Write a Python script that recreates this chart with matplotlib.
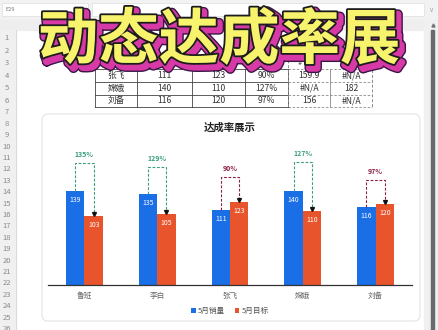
import matplotlib
matplotlib.use('Agg')
import matplotlib.pyplot as plt
import matplotlib.patheffects as pe
from matplotlib.patches import Rectangle, FancyBboxPatch
import numpy as np

plt.rcParams['font.family'] = ['Noto Sans CJK SC', 'DejaVu Sans']

### Data
names = ['鲁班', '李白', '张飞', '嫦娥', '刘备']
sales = [139, 135, 111, 140, 116]      # 5月销量
target = [103, 105, 123, 110, 120]     # 5月目标
rate_labels = ['135%', '129%', '90%', '127%', '97%']

# visible rows of the sheet table (rows 4-6)
table_rows = [
    ['张飞', '111', '123', '90%', '159.9', '#N/A'],
    ['嫦娥', '140', '110', '127%', '#N/A', '182'],
    ['刘备', '116', '120', '97%', '156', '#N/A'],
]
row_numbers = list(range(1, 27))

big_title = '动态达成率展'
chart_title = '达成率展示'
legend_labels = ['5月销量', '5月目标']

# colours
c_blue = '#1a6ee6'
c_orange = '#e8542c'
c_up = '#3a9f7a'
c_down = '#8e1f45'

W, H = 439, 330
fig = plt.figure(figsize=(W / 100, H / 100), dpi=100)
fig.patch.set_facecolor('white')

### Background "spreadsheet" layer in pixel coords
bg = fig.add_axes([0, 0, 1, 1])
bg.set_xlim(0, W)
bg.set_ylim(H, 0)
bg.axis('off')

# formula bar strip
bg.add_patch(Rectangle((0, 0), W, 20, color='#f2f2f2', zorder=1))
bg.add_patch(Rectangle((2, 3), 86, 13, facecolor='white', edgecolor='#e2e2e2', lw=0.6, zorder=2))
bg.add_patch(Rectangle((92, 3), 332, 13, facecolor='white', edgecolor='#e2e2e2', lw=0.6, zorder=2))
bg.text(6, 9.5, 'E29', fontsize=4, color='#777777', va='center', zorder=3)
bg.text(432, 9.5, 'v', fontsize=4.5, color='#999999', va='center', ha='center', zorder=3)
# column header strip
bg.add_patch(Rectangle((0, 20), W, 10, color='#eeeeee', zorder=1))

# row numbers column
bg.add_patch(Rectangle((0, 30), 16, H - 30, color='#f0f0f0', zorder=1))
bg.plot([16, 16], [30, H], color='#d8d8d8', lw=0.6, zorder=2)
for n in row_numbers:
    yc = 38 + (n - 1) * 12.6 if n <= 6 else 101 + (n - 6) * 11.4
    bg.text(7, yc, str(n), fontsize=5.5, color='#8a8a8a', ha='center', va='center', zorder=3)

# scrollbar on the right
bg.add_patch(Rectangle((424, 20), 15, H - 20, color='#f0f0f0', zorder=1))
bg.add_patch(Rectangle((431.5, 30), 2.5, H - 30, color='#6a6a6a', zorder=2))
bg.plot([432.7], [25], marker='^', ms=2.2, color='#777777', zorder=3)

# sheet table (rows 4-6)
col_edges = [95, 137, 192, 245, 288, 330, 372]
row_edges = [69, 82, 94.5, 107]
for r, row in enumerate(table_rows):
    for c, val in enumerate(row):
        xc = (col_edges[c] + col_edges[c + 1]) / 2
        yc = (row_edges[r] + row_edges[r + 1]) / 2
        bg.text(xc, yc, val, fontsize=6.2, color='#333333', ha='center', va='center', zorder=3)
for y in row_edges:
    bg.plot([col_edges[0], col_edges[4]], [y, y], color='#444444', lw=0.6, zorder=2)
    bg.plot([col_edges[4], col_edges[6]], [y, y], color='#888888', lw=0.6, ls=(0, (3, 2)), zorder=2)
for x in col_edges[:5]:
    bg.plot([x, x], [row_edges[0], row_edges[-1]], color='#444444', lw=0.6, zorder=2)
bg.plot([col_edges[5], col_edges[5]], [row_edges[0], row_edges[-1]], color='#888888', lw=0.6, zorder=2)
for x in (col_edges[4], col_edges[6]):
    bg.plot([x, x], [55, row_edges[-1]], color='#888888', lw=0.7, ls=(0, (3, 2)), zorder=2)
bg.text(300, 63, '#', fontsize=5.5, color='#333333', ha='center', va='center', zorder=3)

# chart card
bg.add_patch(FancyBboxPatch((42, 114), 378, 207, boxstyle='round,pad=0,rounding_size=6',
                            facecolor='white', edgecolor='#e3e3e3', lw=0.8, zorder=4))
bg.text(230, 128, chart_title, fontsize=7.5, fontweight='bold', color='#222222',
        ha='center', va='center', zorder=5)

# big overlay title
bg.text(219, 41, big_title, fontsize=43.5, fontweight='bold', color='#f7f36c',
        ha='center', va='center', zorder=10,
        path_effects=[pe.Stroke(offset=(2.5, -3), linewidth=7, foreground='#3b1546'),
                      pe.Stroke(offset=(2.5, -3), linewidth=5, foreground='#d73aa6'),
                      pe.Stroke(linewidth=2.6, foreground='#1c1c1c'),
                      pe.Normal()])

### Chart axes
base_y, top_y = 285, 140
left_x, right_x = 48, 412
ax = fig.add_axes([left_x / W, (H - base_y) / H, (right_x - left_x) / W, (base_y - top_y) / H])
ax.patch.set_alpha(0)
ax.set_zorder(5)

x = np.arange(len(names))
bw = 0.254
ax.bar(x - bw / 2, sales, width=bw, color=c_blue, label=legend_labels[0], zorder=2)
ax.bar(x + bw / 2, target, width=bw, color=c_orange, label=legend_labels[1], zorder=2)

for i in range(len(names)):
    s, t = sales[i], target[i]
    ax.annotate(str(s), (x[i] - bw / 2, s), xytext=(0, -6.5), textcoords='offset points',
                ha='center', va='center', fontsize=5, color='white', zorder=4)
    ax.annotate(str(t), (x[i] + bw / 2, t), xytext=(0, -6.5), textcoords='offset points',
                ha='center', va='center', fontsize=5, color='white', zorder=4)
    top = 1.3 * max(s, t)
    col = c_up if s >= t else c_down
    ax.plot([x[i] - bw / 2, x[i] - bw / 2, x[i] + bw / 2, x[i] + bw / 2],
            [s, top, top, t + 3], color=col, lw=0.8, ls=(0, (2.5, 1.5)), zorder=3)
    ax.plot(x[i] + bw / 2, t + 3, marker='v', ms=2.8, color='#111111', zorder=3)
    ax.annotate(rate_labels[i], (x[i], top), xytext=(0, 6), textcoords='offset points',
                ha='center', va='center', fontsize=5, fontweight='bold', color=col)

ax.set_xlim(-0.5, len(names) - 0.5)
ax.set_ylim(0, 215)
ax.set_yticks([])
ax.set_xticks(x, names)
ax.tick_params(axis='x', length=0, pad=5, labelsize=5.5, labelcolor='#666666')
for sp in ['top', 'right', 'left']:
    ax.spines[sp].set_visible(False)
ax.spines['bottom'].set_color('#333333')
ax.spines['bottom'].set_linewidth(0.9)

ax.legend(loc='center', bbox_to_anchor=(0.5, -0.18), ncol=2, frameon=False, fontsize=5.5,
          handlelength=0.6, handleheight=0.6, handletextpad=0.3, columnspacing=1.2,
          labelcolor='#555555')

fig.savefig('out.png', dpi=100, facecolor='white')
